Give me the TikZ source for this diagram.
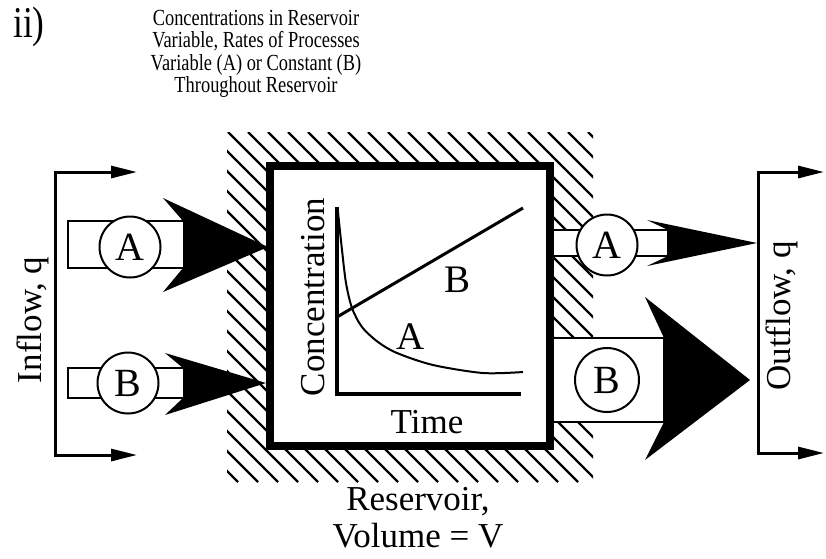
\documentclass[tikz,border=0pt]{standalone}
\usepackage{fontspec}
\setmainfont{Liberation Serif}
\newfontfamily\narrowfont[FakeStretch=0.8]{Liberation Serif}
\usetikzlibrary{arrows.meta}

\begin{document}
\begin{tikzpicture}[x=1pt,y=-1pt,line width=2.5pt,>={Triangle[length=26pt,width=12pt]},
  big/.style={font=\fontsize{35}{37}\selectfont,inner sep=0pt},
  gauge/.style={circle,draw,fill=white,line width=2pt,minimum size=61pt,inner sep=0pt,font=\fontsize{40}{40}\selectfont},
  pipe/.style={draw,fill=white,line width=2.5pt},
  head/.style={fill=black,draw=none}]
  \useasboundingbox (0,0) rectangle (826,558);
  % hatched wall round the reservoir
  \begin{scope}
    \clip (227,132) rectangle (593,482);
    \foreach \x in {-132,-112,...,588}
      \draw[line width=2.2pt] (\x,132) -- ++(350,350);
  \end{scope}
  % inflow pipes and heads
  \fill[head] (163,198) -- (268,247) -- (163,292) -- (183,268) -- (183,221) -- cycle;
  \fill[head] (165,353) -- (266,383) -- (165,415) -- (183,398) -- (183,368) -- cycle;
  \draw[pipe] (183,221) -- (68,221) -- (68,268) -- (183,268);
  \draw[pipe] (183,368) -- (68,368) -- (68,398) -- (183,398);
  \node[gauge] (inA) at (130,247) {A};
  \node[gauge] (inB) at (128,383) {B};
  % outflow pipes and heads
  \draw[pipe] (550,230) rectangle (668,256);
  \draw[pipe] (550,338) rectangle (664,422);
  \fill[head] (647,220) -- (757,243) -- (647,266) -- (668,256) -- (668,230) -- cycle;
  \fill[head] (645,297) -- (750,380) -- (645,460) -- (664,422) -- (664,338) -- cycle;
  \node[gauge] (outA) at (607,245) {A};
  \node[gauge,minimum size=64pt] (outB) at (607,380) {B};
  % reservoir
  \node[draw,fill=white,line width=8pt,minimum size=280pt,inner sep=0pt] (res) at (410,306) {};
  \draw[line width=3.5pt] (337,207) -- (337,394) -- (521,394);
  \draw[line width=3pt] (337,317) -- (523,208);
  \draw[line width=2pt] plot[smooth] coordinates {(338,212) (342,250) (346,283) (352,308) (362,327) (378,342) (397,353) (433,365) (483,373) (523,372)};
  \node[big,rotate=90] (conc) at (313,297) {Concentration};
  \node[big] (time) at (427,422) {Time};
  \node[big,font=\fontsize{39}{39}\selectfont] (lbB) at (457,280) {B};
  \node[big,font=\fontsize{39}{39}\selectfont] (lbA) at (411,337) {A};
  % brackets
  \coordinate (inT) at (137,172);
  \coordinate (inTc) at (55,172);
  \coordinate (inBc) at (55,455);
  \coordinate (inB) at (137,455);
  \draw[<->,line width=3pt] (inT) -- (inTc) -- (inBc) -- (inB);
  \coordinate (outT) at (824,172);
  \coordinate (outTc) at (758,172);
  \coordinate (outBc) at (758,453);
  \coordinate (outB) at (824,453);
  \draw[<->,line width=3pt] (outT) -- (outTc) -- (outBc) -- (outB);
  \node[big,rotate=90] (inflow) at (33,320) {Inflow, q};
  \node[big,rotate=90] (outflow) at (782,316) {Outflow, q};
  % labels
  \node[font=\narrowfont\fontsize{44}{44}\selectfont,inner sep=0pt] (tag) at (29,27) {ii)};
  \node[align=center,font=\narrowfont\fontsize{23}{22.3}\selectfont] (title) at (256,54)
    {Concentrations in Reservoir\\Variable, Rates of Processes\\Variable (A) or Constant (B)\\Throughout Reservoir};
  \node[big,align=center] (vol) at (418,518) {Reservoir,\\Volume = V};
\end{tikzpicture}
\end{document}
